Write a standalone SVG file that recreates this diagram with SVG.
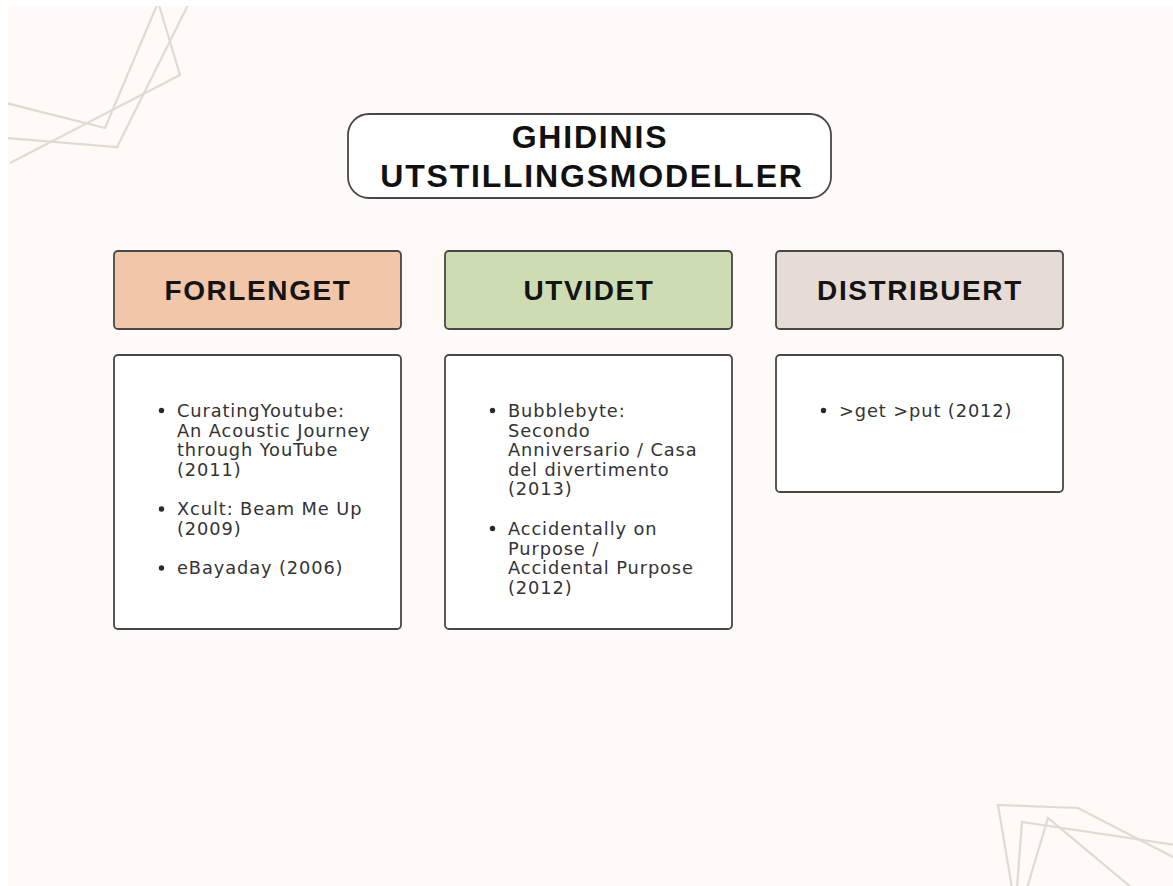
<svg xmlns="http://www.w3.org/2000/svg" width="1173" height="886" viewBox="0 0 1173 886">
  <style>
    .deco { fill: none; stroke: #e3d9d3; stroke-width: 2.2; stroke-linejoin: miter; }
    .box { stroke: #474747; stroke-width: 1.8; }
    .title { font-family: "Liberation Sans", Arial, sans-serif; font-weight: bold; font-size: 32px; letter-spacing: 1.8px; fill: #111; text-anchor: middle; }
    .head { font-family: "Liberation Sans", Arial, sans-serif; font-weight: bold; font-size: 28px; letter-spacing: 1.6px; fill: #141414; text-anchor: middle; }
    .body { font-family: "DejaVu Sans", sans-serif; font-size: 17.8px; letter-spacing: 0.9px; fill: #333333; }
    .dot { fill: #2a2a2a; }
  </style>
  <rect x="0" y="0" width="1173" height="886" fill="#ffffff"/>
  <rect x="8" y="6" width="1165" height="880" fill="#fdfaf7"/>

  <g id="decoration">
    <svg x="8" y="6" width="1165" height="880" viewBox="8 6 1165 880" overflow="hidden">
      <polyline class="deco" points="157,5 105,128 6,103"/>
      <polyline class="deco" points="159,5 180,75 10,163"/>
      <polyline class="deco" points="188,5 117,147 6,138"/>
      <polyline class="deco" points="1012,888 998,805 1078,808 1175,858"/>
      <polyline class="deco" points="1017,888 1022,822 1175,845"/>
      <polyline class="deco" points="1027,888 1048,818 1132,888"/>
    </svg>
  </g>

  <g id="title">
    <rect class="box" x="348" y="114" width="483" height="84" rx="21" fill="#ffffff"/>
    <text class="title" x="590" y="148">GHIDINIS</text>
    <text class="title" x="592" y="187">UTSTILLINGSMODELLER</text>
  </g>

  <g id="head-forlenget">
    <rect class="box" x="114" y="251" width="287" height="78" rx="4" fill="#f2c6a8"/>
    <text class="head" x="258" y="300">FORLENGET</text>
  </g>
  <g id="head-utvidet">
    <rect class="box" x="445" y="251" width="287" height="78" rx="4" fill="#cddcb2"/>
    <text class="head" x="589" y="300">UTVIDET</text>
  </g>
  <g id="head-distribuert">
    <rect class="box" x="776" y="251" width="287" height="78" rx="4" fill="#e6dbd5"/>
    <text class="head" x="920" y="300">DISTRIBUERT</text>
  </g>

  <g id="list-forlenget">
    <rect class="box" x="114" y="355" width="287" height="274" rx="4" fill="#ffffff"/>
    <circle class="dot" cx="161.5" cy="410.5" r="2.7"/>
    <circle class="dot" cx="161.5" cy="509" r="2.7"/>
    <circle class="dot" cx="161.5" cy="568" r="2.7"/>
    <text class="body">
      <tspan x="177" y="417">CuratingYoutube:</tspan>
      <tspan x="177" y="436.5">An Acoustic Journey</tspan>
      <tspan x="177" y="456">through YouTube</tspan>
      <tspan x="177" y="475.5">(2011)</tspan>
      <tspan x="177" y="515">Xcult: Beam Me Up</tspan>
      <tspan x="177" y="534.5">(2009)</tspan>
      <tspan x="177" y="574">eBayaday (2006)</tspan>
    </text>
  </g>

  <g id="list-utvidet">
    <rect class="box" x="445" y="355" width="287" height="274" rx="4" fill="#ffffff"/>
    <circle class="dot" cx="492.5" cy="410.5" r="2.7"/>
    <circle class="dot" cx="492.5" cy="528.5" r="2.7"/>
    <text class="body">
      <tspan x="508" y="417">Bubblebyte:</tspan>
      <tspan x="508" y="436.5">Secondo</tspan>
      <tspan x="508" y="456">Anniversario / Casa</tspan>
      <tspan x="508" y="475.5">del divertimento</tspan>
      <tspan x="508" y="495">(2013)</tspan>
      <tspan x="508" y="535">Accidentally on</tspan>
      <tspan x="508" y="554.5">Purpose /</tspan>
      <tspan x="508" y="574">Accidental Purpose</tspan>
      <tspan x="508" y="593.5">(2012)</tspan>
    </text>
  </g>

  <g id="list-distribuert">
    <rect class="box" x="776" y="355" width="287" height="137" rx="4" fill="#ffffff"/>
    <circle class="dot" cx="823.5" cy="410.5" r="2.7"/>
    <text class="body">
      <tspan x="839" y="417">&gt;get &gt;put (2012)</tspan>
    </text>
  </g>

  <g id="connectors"></g>
</svg>
